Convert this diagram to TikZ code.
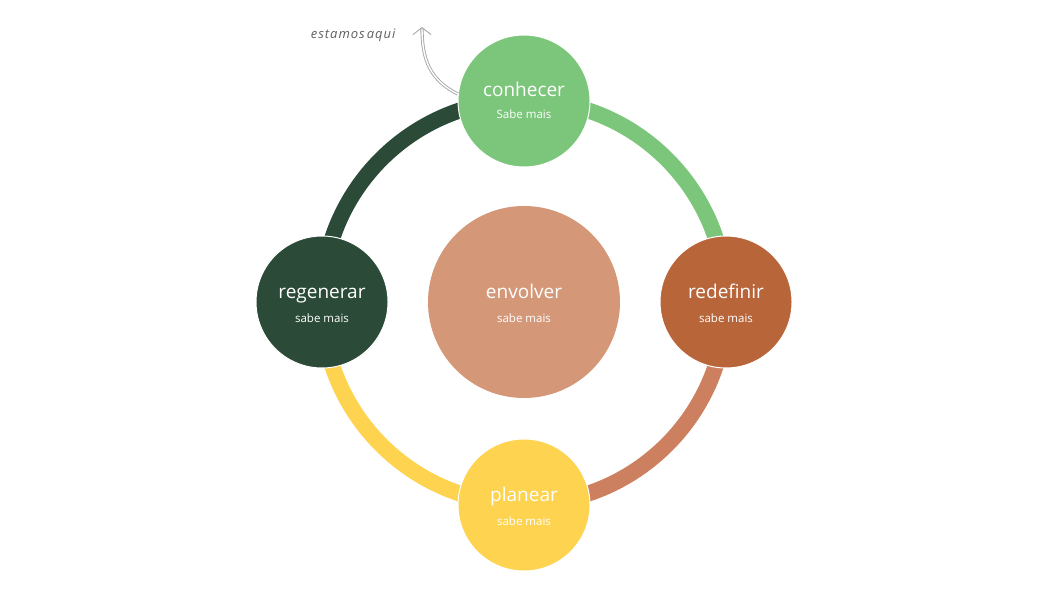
\documentclass[tikz,border=0pt]{standalone}
\usepackage{fontspec}
\setmainfont{Open Sans}
\usepackage{xcolor}
\usetikzlibrary{arrows.meta}

\definecolor{lightgreen}{HTML}{7BC67B}
\definecolor{darkgreen}{HTML}{2B4A37}
\definecolor{rust}{HTML}{B8653A}
\definecolor{rustlight}{HTML}{CC8060}
\definecolor{clay}{HTML}{D49879}
\definecolor{sun}{HTML}{FED34F}

\tikzset{
  stage/.style={circle, draw=white, line width=1pt, minimum size=132pt, inner sep=0pt},
  ring/.style={line width=16pt},
  title/.style={text=white, anchor=base, font=\fontsize{19}{19}\selectfont},
  more/.style={text=white, anchor=base, font=\fontsize{11.5}{11.5}\selectfont}
}

\begin{document}
\begin{tikzpicture}[x=1pt,y=1pt]
\useasboundingbox (0,0) rectangle (1056,-591);
\coordinate (mid) at (524,-302);
\coordinate (here) at (422,-27);

% ring
\draw[ring, lightgreen] (524,-100) arc[start angle=90, end angle=0, radius=202];
\draw[ring, rustlight] (726,-302) arc[start angle=0, end angle=-90, radius=202];
\draw[ring, sun] (524,-504) arc[start angle=-90, end angle=-180, radius=202];
\draw[ring, darkgreen] (322,-302) arc[start angle=180, end angle=90, radius=202];

\node[stage, fill=lightgreen] (top) at (524,-101) {};
\node[stage, fill=rust] (right) at (726,-302) {};
\node[stage, fill=sun] (bottom) at (524,-505) {};
\node[stage, fill=darkgreen] (left) at (322,-302) {};
\node[stage, fill=clay, minimum size=192pt, draw=none] (centre) at (mid) {};

\node[title] at ([yshift=4]top.center) {conhecer};
\node[more] at ([yshift=-17]top.center) {Sabe mais};
\node[title] at ([yshift=4]right.center) {redefinir};
\node[more] at ([yshift=-20]right.center) {sabe mais};
\node[title] at ([yshift=4]bottom.center) {planear};
\node[more] at ([yshift=-20]bottom.center) {sabe mais};
\node[title] at ([yshift=4]left.center) {regenerar};
\node[more] at ([yshift=-20]left.center) {sabe mais};
\node[title] at ([yshift=4]centre.center) {envolver};
\node[more] at ([yshift=-20]centre.center) {sabe mais};

\node[text=gray!75!black, font=\itshape\fontsize{13}{13}\selectfont, anchor=east] (label) at (399,-35) {e\kern1pt s\kern1pt t\kern1pt a\kern1pt m\kern1pt o\kern1pt s\kern2pt a\kern1pt q\kern1pt u\kern1pt i};
\draw[gray!70, double=white, double distance=1.4pt, line width=0.9pt,
  -{Straight Barb[length=7pt,width=18pt,line width=0.9pt]}]
  (top.174) .. controls (430,-80) and (422,-60) .. (here);
\end{tikzpicture}
\end{document}
